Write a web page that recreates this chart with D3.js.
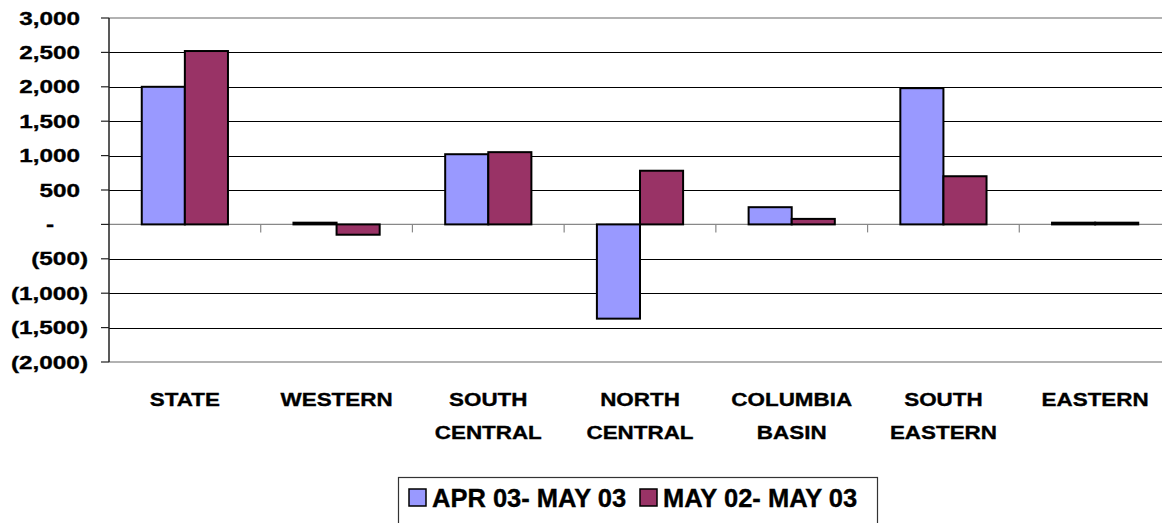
<!DOCTYPE html>
<html>
<head>
<meta charset="utf-8">
<script src="https://cdn.jsdelivr.net/npm/d3@7"></script>
<style>
  body { margin: 0; background: #fff; }
  text { font-family: "Liberation Sans", Arial, sans-serif; font-weight: bold; fill: #000; stroke: #000; stroke-width: 0.35px; }
</style>
</head>
<body>
<div id="chart"></div>
<script>
// chart data
var categories = [["STATE"], ["WESTERN"], ["SOUTH", "CENTRAL"], ["NORTH", "CENTRAL"], ["COLUMBIA", "BASIN"], ["SOUTH", "EASTERN"], ["EASTERN"]];
var seriesNames = ["APR 03- MAY 03", "MAY 02- MAY 03"];
var aprMay = [2000, 25, 1020, -1370, 250, 1980, 25];
var mayMay = [2520, -150, 1050, 780, 80, 700, 25];
var yTicks = [-2000, -1500, -1000, -500, 0, 500, 1000, 1500, 2000, 2500, 3000];
var colors = ["#9999FF", "#993366"];

var width = 1162, height = 523;
var plot = {left: 109, top: 18, right: 1171, bottom: 362};

var svg = d3.select("#chart").append("svg")
    .attr("width", width)
    .attr("height", height);

var y = d3.scaleLinear()
    .domain([-2000, 3000])
    .range([plot.bottom, plot.top]);

var keys = categories.map(function(d){ return d.join(" "); });

var x0 = d3.scaleBand()
    .domain(keys)
    .range([plot.left, plot.right])
    .paddingInner(0).paddingOuter(0);

var x1 = d3.scaleBand()
    .domain([0, 1])
    .range([0, x0.bandwidth()])
    .paddingInner(0).paddingOuter(0.76);

// grid lines
svg.append("g").selectAll("line")
    .data(yTicks.filter(function(d){ return d != 3000 && d != -2000 && d != 0; }))
    .enter().append("line")
    .attr("x1", plot.left).attr("x2", width)
    .attr("y1", function(d){ return Math.round(y(d)) + 0.5; })
    .attr("y2", function(d){ return Math.round(y(d)) + 0.5; })
    .attr("stroke", "#000").attr("stroke-width", 1);

// plot border top / bottom (grey)
[3000, -2000].forEach(function(v){
    svg.append("line")
        .attr("x1", plot.left).attr("x2", width)
        .attr("y1", y(v)).attr("y2", y(v))
        .attr("stroke", "#999").attr("stroke-width", 1.5);
});

// zero line + category ticks
svg.append("line")
    .attr("x1", plot.left).attr("x2", width)
    .attr("y1", y(0)).attr("y2", y(0))
    .attr("stroke", "#888").attr("stroke-width", 1.2);

svg.append("g").selectAll("line")
    .data(keys.slice(1))
    .enter().append("line")
    .attr("x1", function(d){ return x0(d); })
    .attr("x2", function(d){ return x0(d); })
    .attr("y1", y(0)).attr("y2", y(0) + 8)
    .attr("stroke", "#888").attr("stroke-width", 1.2);

// bars
var rows = keys.map(function(k, i){ return {key: k, vals: [aprMay[i], mayMay[i]]}; });

var grp = svg.append("g").selectAll("g")
    .data(rows)
    .enter().append("g")
    .attr("transform", function(d){ return "translate(" + x0(d.key) + ",0)"; });

grp.selectAll("rect")
    .data(function(d){ return d.vals.map(function(v, j){ return {v: v, s: j}; }); })
    .enter().append("rect")
    .attr("x", function(d){ return x1(d.s); })
    .attr("width", x1.bandwidth())
    .attr("y", function(d){ return y(Math.max(0, d.v)); })
    .attr("height", function(d){ return Math.abs(y(d.v) - y(0)); })
    .attr("fill", function(d){ return colors[d.s]; })
    .attr("stroke", "#000")
    .attr("stroke-width", 2);

// y axis line and ticks
svg.append("line")
    .attr("x1", plot.left).attr("x2", plot.left)
    .attr("y1", y(3000)).attr("y2", y(-2000))
    .attr("stroke", "#222").attr("stroke-width", 1.5);

svg.append("g").selectAll("line")
    .data(yTicks)
    .enter().append("line")
    .attr("x1", plot.left - 8).attr("x2", plot.left)
    .attr("y1", function(d){ return y(d); })
    .attr("y2", function(d){ return y(d); })
    .attr("stroke", "#222").attr("stroke-width", 1.2);

var fmt = d3.format(",");
function yLabel(v){
    if (v > 0) return {t: fmt(v), x: 80};
    if (v < 0) return {t: "(" + fmt(-v) + ")", x: 88};
    return {t: "-", x: 54};
}

svg.append("g").selectAll("text")
    .data(yTicks)
    .enter().append("text")
    .attr("transform", function(d){ return "translate(" + yLabel(d).x + "," + y(d) + ") scale(1.28,1)"; })
    .attr("text-anchor", "end")
    .attr("dy", "0.35em")
    .style("font-size", "19px")
    .text(function(d){ return yLabel(d).t; });

// category labels
var cat = svg.append("g").selectAll("g")
    .data(categories)
    .enter().append("g");

cat.selectAll("text")
    .data(function(d, i){ return d.map(function(line, j){ return {line: line, j: j, key: keys[i]}; }); })
    .enter().append("text")
    .attr("transform", function(d){
        return "translate(" + (x0(d.key) + x0.bandwidth() / 2) + "," + (406 + d.j * 33) + ") scale(1.18,1)";
    })
    .attr("text-anchor", "middle")
    .style("font-size", "19px")
    .text(function(d){ return d.line; });

// legend
var legend = svg.append("g");
legend.append("rect")
    .attr("x", 398.5).attr("y", 477.5)
    .attr("width", 479).attr("height", 60)
    .attr("fill", "#fff").attr("stroke", "#333").attr("stroke-width", 1.2);

var legX = [409, 640];
seriesNames.forEach(function(name, i){
    legend.append("rect")
        .attr("x", legX[i]).attr("y", 489)
        .attr("width", 17).attr("height", 17)
        .attr("fill", colors[i]).attr("stroke", "#000").attr("stroke-width", 1.5);
    legend.append("text")
        .attr("x", legX[i] + 23).attr("y", 507)
        .style("font-size", "25.5px")
        .text(name);
});
</script>
</body>
</html>
